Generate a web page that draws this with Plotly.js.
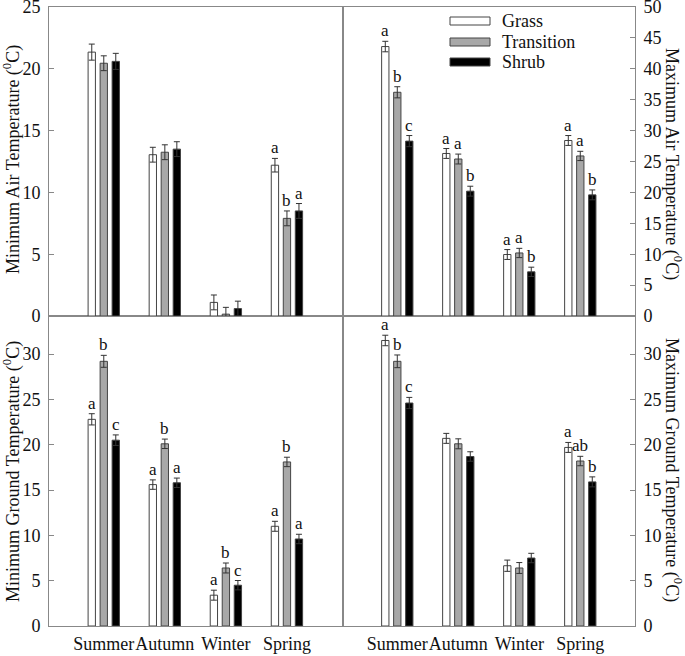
<!DOCTYPE html>
<html>
<head>
<meta charset="utf-8">
<script src="https://cdn.plot.ly/plotly-3.0.1.min.js"></script>
<style>html,body{margin:0;padding:0;background:#fff;}#chart{width:685px;height:656px;}</style>
</head>
<body>
<div id="chart"></div>
<script>
// ---- Data ----
const seasons = ['Summer', 'Autumn', 'Winter', 'Spring'];
const seriesNames = ['Grass', 'Transition', 'Shrub'];

// Minimum air temperature (top-left)
const minAirGrass = [21.35, 13.05, 1.1, 12.2];
const minAirTransition = [20.45, 13.25, 0.15, 7.9];
const minAirShrub = [20.6, 13.5, 0.6, 8.5];
const minAirGrassErr = [0.65, 0.6, 0.6, 0.55];
const minAirTransitionErr = [0.6, 0.6, 0.55, 0.6];
const minAirShrubErr = [0.65, 0.6, 0.6, 0.6];
const minAirGrassLet = ['', '', '', 'a'];
const minAirTransitionLet = ['', '', '', 'b'];
const minAirShrubLet = ['', '', '', 'a'];

// Maximum air temperature (top-right)
const maxAirGrass = [43.6, 26.3, 9.95, 28.4];
const maxAirTransition = [36.2, 25.4, 10.2, 25.9];
const maxAirShrub = [28.3, 20.2, 7.15, 19.6];
const maxAirGrassErr = [0.85, 0.8, 0.8, 0.8];
const maxAirTransitionErr = [0.9, 0.8, 0.75, 0.75];
const maxAirShrubErr = [0.9, 0.8, 0.75, 0.8];
const maxAirGrassLet = ['a', 'a', 'a', 'a'];
const maxAirTransitionLet = ['b', 'a', 'a', 'a'];
const maxAirShrubLet = ['c', 'b', 'b', 'b'];

// Minimum ground temperature (bottom-left)
const minGroundGrass = [22.8, 15.6, 3.4, 11.0];
const minGroundTransition = [29.2, 20.1, 6.4, 18.1];
const minGroundShrub = [20.5, 15.8, 4.5, 9.6];
const minGroundGrassErr = [0.62, 0.52, 0.55, 0.55];
const minGroundTransitionErr = [0.66, 0.52, 0.55, 0.52];
const minGroundShrubErr = [0.58, 0.52, 0.52, 0.52];
const minGroundGrassLet = ['a', 'a', 'a', 'a'];
const minGroundTransitionLet = ['b', 'b', 'b', 'b'];
const minGroundShrubLet = ['c', 'a', 'c', 'a'];

// Maximum ground temperature (bottom-right)
const maxGroundGrass = [31.5, 20.7, 6.65, 19.7];
const maxGroundTransition = [29.2, 20.1, 6.4, 18.2];
const maxGroundShrub = [24.6, 18.7, 7.5, 15.9];
const maxGroundGrassErr = [0.58, 0.55, 0.62, 0.55];
const maxGroundTransitionErr = [0.7, 0.55, 0.6, 0.52];
const maxGroundShrubErr = [0.62, 0.52, 0.52, 0.55];
const maxGroundGrassLet = ['a', '', '', 'a'];
const maxGroundTransitionLet = ['b', '', '', 'ab'];
const maxGroundShrubLet = ['c', '', '', 'b'];

// Axis titles
const titleMinAir = 'Minimum Air Temperature (<sup>0</sup>C)';
const titleMaxAir = 'Maximum Air Temperature (<sup>0</sup>C)';
const titleMinGround = 'Minimum Ground Temperature (<sup>0</sup>C)';
const titleMaxGround = 'Maximum Ground Temperature (<sup>0</sup>C)';

// ---- Styling ----
const FONT = "'Liberation Serif', 'Times New Roman', serif";
const fills = ['#ffffff', '#a8a8a8', '#000000'];
const W = 685, H = 656;
const M = {l: 49, r: 50, t: 7, b: 30};
const PW = W - M.l - M.r, PH = H - M.t - M.b;
const px2x = p => (p - M.l) / PW;
const py2y = p => (H - M.b - p) / PH;
const xSplit = px2x(343);
const ySplit = py2y(316);
const BARGAP = 0.41, GROUPGAP = 0.39;
const slot = (1 - BARGAP) / 3;

const panels = [
  {ax: '', vals: [minGroundGrass, minGroundTransition, minGroundShrub], errs: [minGroundGrassErr, minGroundTransitionErr, minGroundShrubErr], lets: [minGroundGrassLet, minGroundTransitionLet, minGroundShrubLet]},
  {ax: '2', vals: [maxGroundGrass, maxGroundTransition, maxGroundShrub], errs: [maxGroundGrassErr, maxGroundTransitionErr, maxGroundShrubErr], lets: [maxGroundGrassLet, maxGroundTransitionLet, maxGroundShrubLet]},
  {ax: '3', vals: [minAirGrass, minAirTransition, minAirShrub], errs: [minAirGrassErr, minAirTransitionErr, minAirShrubErr], lets: [minAirGrassLet, minAirTransitionLet, minAirShrubLet]},
  {ax: '4', vals: [maxAirGrass, maxAirTransition, maxAirShrub], errs: [maxAirGrassErr, maxAirTransitionErr, maxAirShrubErr], lets: [maxAirGrassLet, maxAirTransitionLet, maxAirShrubLet]}
];

const traces = [];
const annotations = [];
panels.forEach(p => {
  for (let s = 0; s < 3; s++) {
    traces.push({
      type: 'bar', name: seriesNames[s], x: seasons, y: p.vals[s],
      xaxis: 'x' + p.ax, yaxis: 'y' + p.ax, showlegend: false,
      marker: {color: fills[s], line: {color: '#444', width: 1}},
      error_y: {type: 'data', array: p.errs[s], visible: true, color: '#333', thickness: 1, width: 3},
      hoverinfo: 'skip'
    });
    p.lets[s].forEach((t, i) => {
      if (!t) return;
      annotations.push({
        xref: 'x' + p.ax, yref: 'y' + p.ax,
        x: i + (s - 1) * slot, y: p.vals[s][i] + p.errs[s][i],
        text: t, showarrow: false, xanchor: 'center', yanchor: 'bottom', yshift: -1,
        font: {family: FONT, size: 17, color: '#111'}
      });
    });
  }
});

// axis titles as annotations
annotations.push({xref: 'paper', yref: 'paper', x: px2x(12), y: py2y(160), text: titleMinAir, textangle: -90, showarrow: false, xanchor: 'center', yanchor: 'middle', font: {family: FONT, size: 18, color: '#111'}});
annotations.push({xref: 'paper', yref: 'paper', x: px2x(12), y: py2y(472), text: titleMinGround, textangle: -90, showarrow: false, xanchor: 'center', yanchor: 'middle', font: {family: FONT, size: 18, color: '#111'}});
annotations.push({xref: 'paper', yref: 'paper', x: px2x(673), y: py2y(164), text: titleMaxAir, textangle: 90, showarrow: false, xanchor: 'center', yanchor: 'middle', font: {family: FONT, size: 18, color: '#111'}});
annotations.push({xref: 'paper', yref: 'paper', x: px2x(673), y: py2y(470), text: titleMaxGround, textangle: 90, showarrow: false, xanchor: 'center', yanchor: 'middle', font: {family: FONT, size: 18, color: '#111'}});

// legend (drawn in top-right panel)
const shapes = [];
const legendRows = [21, 42, 62];
seriesNames.forEach((n, s) => {
  const cy = legendRows[s];
  shapes.push({type: 'rect', xref: 'paper', yref: 'paper', x0: px2x(450), x1: px2x(490), y0: py2y(cy + 4), y1: py2y(cy - 4),
    fillcolor: fills[s], line: {color: '#444', width: 1}});
  annotations.push({xref: 'paper', yref: 'paper', x: px2x(500), y: py2y(cy), text: n, showarrow: false, xanchor: 'left', yanchor: 'middle',
    font: {family: FONT, size: 18, color: '#111'}});
});

const xBase = {type: 'category', categoryorder: 'array', categoryarray: seasons, showline: true, mirror: true, linecolor: '#888', linewidth: 1,
  ticks: '', showgrid: false, zeroline: false, tickangle: 0, tickfont: {family: FONT, size: 18, color: '#111'}, ticklabelstandoff: 1, fixedrange: true};
const yBase = {showline: true, mirror: true, linecolor: '#888', linewidth: 1, ticks: 'inside', ticklen: 5, tickcolor: '#888',
  showgrid: false, zeroline: false, tick0: 0, dtick: 5, tickfont: {family: FONT, size: 18, color: '#111'}, ticklabelstandoff: 4,
  ticklabeloverflow: 'allow', fixedrange: true};

const layout = {
  width: W, height: H, margin: M, paper_bgcolor: '#fff', plot_bgcolor: '#fff',
  barmode: 'group', bargap: BARGAP, bargroupgap: GROUPGAP, showlegend: false,
  font: {family: FONT, size: 18, color: '#111'},
  xaxis: Object.assign({}, xBase, {domain: [0, xSplit], anchor: 'y', range: [-0.897, 3.918]}),
  xaxis2: Object.assign({}, xBase, {domain: [xSplit, 1], anchor: 'y2', range: [-0.89, 3.897]}),
  xaxis3: Object.assign({}, xBase, {domain: [0, xSplit], anchor: 'y3', range: [-0.897, 3.918], showticklabels: false}),
  xaxis4: Object.assign({}, xBase, {domain: [xSplit, 1], anchor: 'y4', range: [-0.89, 3.897], showticklabels: false}),
  yaxis: Object.assign({}, yBase, {domain: [0, ySplit], anchor: 'x', side: 'left', range: [0, 34.2], tickvals: [0, 5, 10, 15, 20, 25, 30]}),
  yaxis2: Object.assign({}, yBase, {domain: [0, ySplit], anchor: 'x2', side: 'right', range: [0, 34.2], tickvals: [0, 5, 10, 15, 20, 25, 30]}),
  yaxis3: Object.assign({}, yBase, {domain: [ySplit, 1], anchor: 'x3', side: 'left', range: [0, 25], tickvals: [0, 5, 10, 15, 20, 25]}),
  yaxis4: Object.assign({}, yBase, {domain: [ySplit, 1], anchor: 'x4', side: 'right', range: [0, 50], tickvals: [0, 5, 10, 15, 20, 25, 30, 35, 40, 45, 50]}),
  annotations: annotations, shapes: shapes
};

Plotly.newPlot('chart', traces, layout, {displayModeBar: false, staticPlot: true});
</script>
</body>
</html>
